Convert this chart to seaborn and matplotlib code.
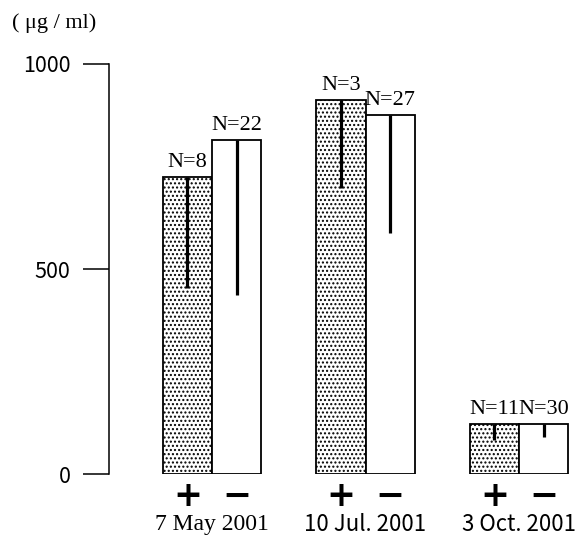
import matplotlib
matplotlib.use("Agg")
import matplotlib.pyplot as plt
import seaborn as sns
import pandas as pd

# Sampling dates and antibody-status groups
dates = ["7 May 2001", "10 Jul. 2001", "3 Oct. 2001"]
signs = ["+", "\u2212"]

# Mean concentration (µg/ml) and standard deviation per group
plus_mean = [724, 912, 122]
minus_mean = [815, 876, 122]
plus_sd = [270, 214, 39]
minus_sd = [378, 288, 32]

# Sample sizes
plus_n = [8, 3, 11]
minus_n = [22, 27, 30]

y_ticks = [0, 500, 1000]

df = pd.DataFrame({
    "date": dates * 2,
    "sign": [signs[0]] * 3 + [signs[1]] * 3,
    "value": plus_mean + minus_mean,
    "sd": plus_sd + minus_sd,
    "n": plus_n + minus_n,
})

sns.set_style("ticks")
plt.rcParams.update({
    "hatch.linewidth": 1.0,
    "text.color": "black",
    "axes.edgecolor": "black",
    "ytick.color": "black",
    "ytick.labelcolor": "black",
})

fig = plt.figure(figsize=(5.83, 5.4), dpi=100)
ax = fig.add_axes([0.187, 0.1222, 0.813, 0.7593])

sns.barplot(data=df, x="date", y="value", hue="sign", order=dates,
            hue_order=signs, palette=["white", "white"], saturation=1,
            width=0.64, gap=0, errorbar=None, edgecolor="black",
            linewidth=1.3, legend=False, ax=ax)

ax.set_xlim(-0.671, 2.417)
ax.set_ylim(0, 1000)

serif = "Liberation Serif"
gothic = "Noto Sans CJK JP"

for container, sign in zip(ax.containers, signs):
    sub = df[df["sign"] == sign].set_index("date").loc[dates]
    for bar, (_, row) in zip(container.patches, sub.iterrows()):
        if sign == signs[0]:
            bar.set_hatch("....")
        xc = bar.get_x() + bar.get_width() / 2
        # one-sided (lower) error bar
        ax.vlines(xc, row["value"] - row["sd"], row["value"],
                  color="black", lw=2.3, zorder=5)
        ax.annotate(f"N={row['n']}", (xc, row["value"]), xytext=(0, 3.5),
                    textcoords="offset points", ha="center", va="bottom",
                    fontfamily=serif, fontsize=16, color="black",
                    annotation_clip=False)
        ax.text(xc, -0.054, sign, transform=ax.get_xaxis_transform(),
                ha="center", va="center", fontfamily="DejaVu Sans",
                fontweight="bold", fontsize=25, color="black", clip_on=False)

date_fonts = [(serif, 17), (gothic, 16), (gothic, 16)]
for i, (d, (f, s)) in enumerate(zip(dates, date_fonts)):
    ax.text(i, -0.124, d, transform=ax.get_xaxis_transform(),
            ha="center", va="center", fontfamily=f, fontsize=s,
            color="black", clip_on=False)

sns.despine(ax=ax, bottom=True)
ax.spines["left"].set_linewidth(1.1)
ax.spines["left"].set_color("black")
ax.set_xticks([])
ax.set_xlabel("")
ax.set_ylabel("")
ax.set_yticks(y_ticks)
ax.set_yticklabels([str(t) for t in y_ticks], fontfamily=gothic, fontsize=15.5)
ax.tick_params(axis="y", left=True, length=18.7, width=1.1, pad=9,
               colors="black")

fig.text(12 / 583, 1 - 23 / 540, "( \u03bcg / ml)", fontfamily=serif,
         fontsize=16, ha="left", va="center", color="black")

fig.savefig("out.png", dpi=100, facecolor="white")
